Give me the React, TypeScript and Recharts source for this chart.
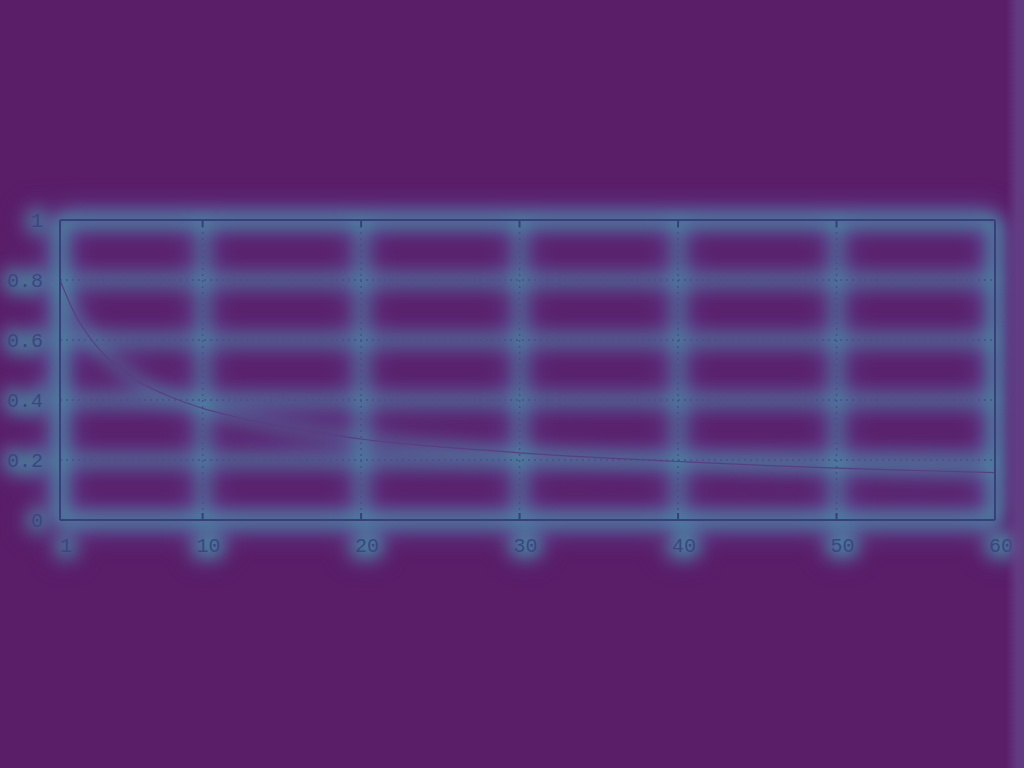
import { CartesianGrid, Line, LineChart, XAxis, YAxis } from 'recharts';

// values
const X_VALUES = [1, 2, 3, 4, 5, 6, 7, 8, 9, 10, 12, 14, 16, 18, 20, 22, 25, 28, 30, 35, 40, 45, 50, 55, 60];
const Y_VALUES = [
  0.8, 0.68, 0.6, 0.54, 0.5, 0.46, 0.433, 0.41, 0.39, 0.372, 0.345, 0.322, 0.303, 0.286, 0.27, 0.258,
  0.244, 0.232, 0.224, 0.208, 0.195, 0.183, 0.173, 0.165, 0.158,
];
const X_TICKS = [1, 10, 20, 30, 40, 50, 60];
const Y_TICKS = [0, 0.2, 0.4, 0.6, 0.8, 1];

const data = X_VALUES.map((x, i) => ({ x, y: Y_VALUES[i] }));

const BG = '#5a1d68';
const GRID = '#4a4f8e';
const FRAME = '#3a3f7c';
const TEXT = '#394782';
const CURVE = '#5c3d84';
const FONT = '"Liberation Mono", "DejaVu Sans Mono", monospace';

// two blurred passes fake the heatmap-like halo: a wide violet one, a thin teal one
type Pass = { color: string; width: number; opacity: number; text: number; curve: number } | null;
const WIDE: Pass = { color: '#5f5aa8', width: 26, opacity: 0.55, text: 16, curve: 20 };
const CORE: Pass = { color: '#3fa3a2', width: 12, opacity: 0.48, text: 12, curve: 8 };

const W = 1024;
const H = 768;

function Empty() {
  return <g />;
}

function XTick(props: any) {
  const { x, y, payload, pass } = props;
  return (
    <text
      x={x + 6}
      y={y + 32}
      textAnchor="middle"
      fontFamily={FONT}
      fontSize={20}
      fill={pass ? pass.color : TEXT}
      stroke={pass ? pass.color : 'none'}
      strokeWidth={pass ? pass.text : 0}
      strokeOpacity={pass ? pass.opacity : 0}
      fillOpacity={pass ? pass.opacity : 1}
    >
      {payload.value}
    </text>
  );
}

function YTick(props: any) {
  const { x, y, payload, pass } = props;
  return (
    <text
      x={x - 17}
      y={y + 7}
      textAnchor="end"
      fontFamily={FONT}
      fontSize={20}
      fill={pass ? pass.color : TEXT}
      stroke={pass ? pass.color : 'none'}
      strokeWidth={pass ? pass.text : 0}
      strokeOpacity={pass ? pass.opacity : 0}
      fillOpacity={pass ? pass.opacity : 1}
    >
      {payload.value}
    </text>
  );
}

function Plot({ pass }: { pass: Pass }) {
  const frame = pass
    ? { stroke: pass.color, strokeWidth: pass.width, strokeOpacity: pass.opacity }
    : { stroke: FRAME, strokeWidth: 2 };
  const tickLine = pass ? false : { stroke: FRAME, strokeWidth: 2 };
  return (
    <LineChart width={W} height={H} data={data} margin={{ top: 220, right: 29, bottom: 218, left: 0 }}>
      <CartesianGrid
        stroke={pass ? pass.color : GRID}
        strokeWidth={pass ? pass.width : 1.5}
        strokeOpacity={pass ? pass.opacity : 1}
        strokeDasharray={pass ? undefined : '2 4'}
      />
      <XAxis
        dataKey="x"
        type="number"
        domain={[1, 60]}
        ticks={X_TICKS}
        interval={0}
        height={30}
        tickSize={0}
        tickMargin={0}
        tickLine={false}
        axisLine={frame}
        tick={<XTick pass={pass} />}
      />
      <XAxis
        xAxisId="top"
        dataKey="x"
        type="number"
        orientation="top"
        mirror
        domain={[1, 60]}
        ticks={X_TICKS}
        interval={0}
        tickSize={7}
        tickLine={tickLine}
        axisLine={frame}
        tick={<Empty />}
      />
      <XAxis
        xAxisId="inner"
        dataKey="x"
        type="number"
        mirror
        domain={[1, 60]}
        ticks={X_TICKS}
        interval={0}
        tickSize={7}
        tickLine={tickLine}
        axisLine={false}
        tick={<Empty />}
      />
      <YAxis
        type="number"
        domain={[0, 1]}
        ticks={Y_TICKS}
        interval={0}
        width={60}
        tickSize={0}
        tickMargin={0}
        tickLine={false}
        axisLine={frame}
        tick={<YTick pass={pass} />}
      />
      <YAxis
        yAxisId="right"
        type="number"
        orientation="right"
        mirror
        domain={[0, 1]}
        ticks={Y_TICKS}
        interval={0}
        tickSize={7}
        tickLine={tickLine}
        axisLine={frame}
        tick={<Empty />}
      />
      <YAxis
        yAxisId="inner"
        type="number"
        mirror
        domain={[0, 1]}
        ticks={Y_TICKS}
        interval={0}
        tickSize={7}
        tickLine={tickLine}
        axisLine={false}
        tick={<Empty />}
      />
      <Line
        dataKey="y"
        type="monotone"
        stroke={pass ? pass.color : CURVE}
        strokeWidth={pass ? pass.curve : 1.2}
        strokeOpacity={pass ? pass.opacity * 0.8 : 1}
        dot={false}
        activeDot={false}
        isAnimationActive={false}
      />
    </LineChart>
  );
}

export default function App() {
  return (
    <div
      style={{
        position: 'fixed',
        left: 0,
        top: 0,
        width: W,
        height: H,
        background: BG,
        overflow: 'hidden',
      }}
    >
      <div style={{ position: 'absolute', left: 0, top: 0, filter: 'blur(12px)' }}>
        <Plot pass={WIDE} />
      </div>
      <div style={{ position: 'absolute', left: 0, top: 0, filter: 'blur(8px)' }}>
        <Plot pass={CORE} />
      </div>
      <div style={{ position: 'absolute', left: 0, top: 0 }}>
        <Plot pass={null} />
      </div>
      <div
        style={{
          position: 'absolute',
          right: 0,
          top: 0,
          width: 18,
          height: H,
          background: 'linear-gradient(to right, rgba(100,70,140,0), rgba(100,70,140,0.7) 60%)',
        }}
      />
    </div>
  );
}
